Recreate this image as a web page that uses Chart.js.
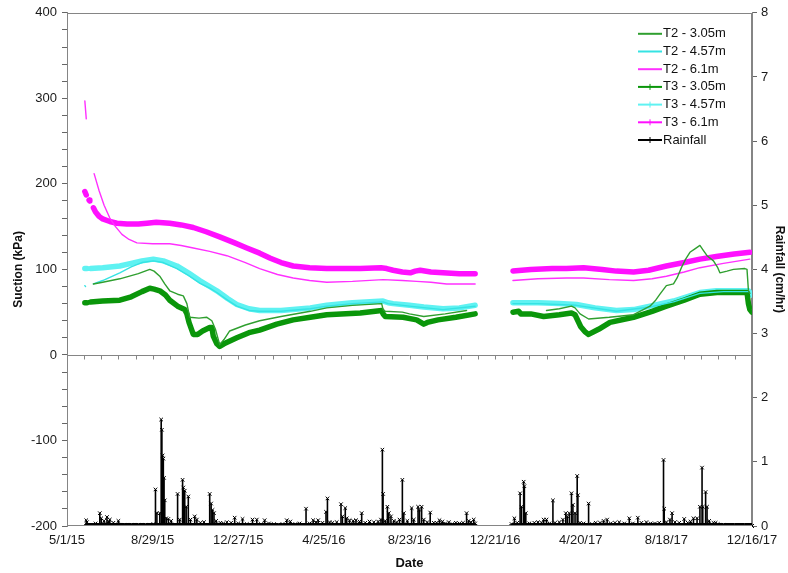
<!DOCTYPE html>
<html><head><meta charset="utf-8">
<script src="https://cdn.jsdelivr.net/npm/chart.js@4.4.1/dist/chart.umd.min.js"></script>
<style>html,body{margin:0;padding:0;background:#fff}#wrap{width:788px;height:573px}</style>
</head><body><div id="wrap"><canvas id="c" width="788" height="573"></canvas></div>
<script>
// ---- axis setup (days since 5/1/15) ----
const START = [2015, 4, 1];
const X_MIN = 0, X_MAX = 960, X_STEP = 120, X_MINOR = 24;
const SUCTION_MIN = -200, SUCTION_MAX = 400;
const RAIN_MIN = 0, RAIN_MAX = 8;

// ---- T2 - 3.05m (kPa) ----
const T2_305_DAY = [37,50,74,100,116,122,130,137,144,155,163,168,172,185,196,203,208,214,220,228,250,270,300,341,364,400,441,443,446,470,480,500,530,560,600,672,690,707,712,719,731,760,794,817,825,831,840,850,855,861,867,873,880,887,892,897,906,912,915,925,934,950,953,955,957];
const T2_305_KPA = [83,85,89,95,100,98,92,83,75,71,69,60,44,43,44,40,30,12,18,28,35,40,45,51,55,58,60,53,51,50,48,45,48,52,null,52,54,57,55,48,42,44,47,57,64,71,81,83,90,102,112,120,124,128,122,116,110,102,96,98,100,101,100,75,72];
// ---- T2 - 4.57m ----
const T2_457_DAY = [25,26,30,37,50,74,90,105,121,135,154,170,186,200,210,225,238,255,270,300,341,364,400,443,450,480,527,572,600,625,660,714,770,817,850,887,920,955];
const T2_457_KPA = [81,80,null,83,87,96,103,108,110,108,101,93,84,78,73,64,57,52,51,51,54,57,60,62,60,57,53,57,null,60,60,58,51,56,62,72,74,74];
// ---- T2 - 6.1m ----
const T2_61_DAY = [25,27,32,38,45,52,60,68,77,87,98,120,144,160,177,200,224,250,270,295,317,340,364,400,443,470,490,510,532,572,600,625,660,700,724,760,794,820,840,865,887,920,957];
const T2_61_KPA = [297,276,null,212,192,175,160,150,141,135,131,130,130,128,125,121,116,108,101,94,90,87,85,86,88,87,86,85,83,83,null,87,89,90,90,88,87,89,92,97,102,107,112];
// ---- T3 - 3.05m ----
const T3_305_DAY = [25,28,30,33,50,74,90,105,116,122,130,138,144,155,165,168,171,177,183,190,200,203,205,210,214,220,238,255,270,294,317,341,364,411,441,443,446,471,490,500,505,520,545,572,600,625,633,636,650,668,690,707,712,716,720,726,731,745,761,794,820,840,865,887,911,930,953,955,957,960];
const T3_305_KPA = [61,61,null,62,63,64,68,74,78,77,75,70,64,57,53,48,38,24,24,28,32,32,22,13,10,13,20,26,29,36,41,44,47,49,52,48,45,44,41,36,38,41,44,48,null,50,51,48,48,45,47,49,47,40,33,27,24,30,38,44,51,57,64,71,73,73,73,60,53,50];
// ---- T3 - 4.57m ----
const T3_457_DAY = [25,28,31,33,50,74,90,105,121,135,154,170,186,200,210,225,238,255,270,300,341,364,400,443,450,457,480,500,527,550,572,600,625,660,690,714,740,770,794,817,850,887,910,940,955,958,960];
const T3_457_KPA = [101,101,null,101,102,104,107,110,112,110,104,96,87,80,75,66,59,54,52,52,55,58,61,63,61,60,58,56,54,55,58,null,61,61,60,59,55,52,53,57,63,73,75,75,75,72,70];
// ---- T3 - 6.1m ----
const T3_61_DAY = [25,27,29,31,32,34,37,40,45,50,60,70,84,100,112,125,144,160,177,195,214,235,252,270,285,300,317,340,364,411,440,448,457,470,481,488,495,510,527,550,572,600,625,650,680,700,724,750,770,794,815,840,865,887,910,935,957];
const T3_61_KPA = [191,187,null,181,180,null,172,167,162,159,156,154,153,153,154,155,154,152,149,144,138,131,125,119,113,108,104,102,101,101,102,101,99,97,96,98,99,97,96,95,95,null,98,100,101,101,102,100,98,97,99,104,108,112,115,118,120];

// ---- Rainfall events (cm/hr); null = no record ----
const RAIN_DAY = [
 27,28,40,46,48,52,56,58,60,65,
 72,80,90,100,110,121,124,126,130,132,
 133,134,135,136,137,139,142,146,155,158,
 162,163,165,167,170,173,179,182,187,192,
 200,202,204,206,209,215,219,224,230,235,
 240,246,252,260,266,272,277,283,290,296,
 302,308,313,320,326,335,340,345,349,352,
 358,363,365,368,372,378,384,386,390,392,
 396,401,405,410,413,418,424,430,436,440,
 442,443,446,449,451,454,458,462,466,470,
 472,477,483,486,492,494,497,500,505,509,
 514,518,522,526,530,535,540,545,550,555,
 560,563,566,570,572,
 600,
 623,627,631,635,637,640,641,643,648,655,
 660,665,668,672,676,681,684,690,695,699,
 701,704,707,709,712,715,716,719,724,731,
 736,741,747,752,757,762,768,774,781,788,
 793,800,805,812,818,824,830,836,837,840,
 845,848,852,858,865,870,874,878,883,887,
 890,891,895,897,900,906,909,912,920,935,
 950,960];
const RAIN_CM = [
 0.09,0.06,0.04,0.2,0.12,0.08,0.14,0.07,0.1,0.05,
 0.08,0.02,0.02,0.02,0.02,0.03,0.57,0.2,0.2,1.66,
 1.5,1.1,1.05,0.75,0.4,0.12,0.11,0.08,0.5,0.1,
 0.72,0.6,0.55,0.3,0.46,0.1,0.15,0.1,0.05,0.06,
 0.5,0.35,0.25,0.2,0.08,0.05,0.04,0.06,0.05,0.13,
 0.04,0.11,0.03,0.1,0.1,0.03,0.09,0.04,0.03,0.02,
 0.03,0.09,0.07,0.03,0.04,0.27,0.04,0.09,0.06,0.09,
 0.05,0.22,0.43,0.06,0.05,0.06,0.34,0.15,0.28,0.12,
 0.09,0.08,0.09,0.07,0.2,0.05,0.07,0.06,0.07,0.1,
 1.19,0.5,0.08,0.3,0.2,0.15,0.08,0.06,0.1,0.72,
 0.2,0.08,0.28,0.1,0.3,0.25,0.3,0.1,0.06,0.21,
 0.05,0.05,0.09,0.07,0.04,0.06,0.03,0.05,0.04,0.05,
 0.2,0.08,0.06,0.1,0.04,
 null,
 0.03,0.12,0.05,0.51,0.3,0.69,0.62,0.2,0.04,0.05,
 0.06,0.05,0.1,0.1,0.04,0.4,0.05,0.06,0.1,0.2,
 0.15,0.2,0.51,0.33,0.2,0.78,0.48,0.05,0.04,0.35,
 0.03,0.05,0.05,0.08,0.1,0.04,0.05,0.06,0.04,0.12,
 0.04,0.13,0.05,0.06,0.04,0.04,0.05,1.03,0.27,0.06,
 0.1,0.2,0.06,0.05,0.11,0.05,0.07,0.12,0.12,0.3,
 0.91,0.3,0.53,0.3,0.08,0.05,0.05,0.03,0.02,0.01,
 0.01,0];

// ---- helpers ----
const pts = (days, vals) => days.map((d, i) => ({x: d, y: vals[i] == null ? null : vals[i]}));
function rainPoints() {
  const out = [];
  RAIN_DAY.forEach((d, i) => {
    const v = RAIN_CM[i];
    if (v == null) { out.push({x: d, y: null}); return; }
    out.push({x: d, y: 0}, {x: d, y: v}, {x: d, y: 0});
  });
  return out;
}
function dayLabel(v) {
  const dt = new Date(START[0], START[1], START[2] + v);
  return (dt.getMonth() + 1) + '/' + dt.getDate() + '/' + String(dt.getFullYear()).slice(2);
}

const FONT = '"Liberation Sans", Arial, sans-serif';
const GREEN_T2 = '#2f9f2f', GREEN_T3 = '#0a960a';
const CYAN_T2 = '#35e3e3', CYAN_T3 = '#5ff2f2';
const MAG_T2 = '#ff30ff', MAG_T3 = '#ff10ff';

function lineDs(label, data, color, width, mark) {
  return {label, data, borderColor: color, backgroundColor: color, borderWidth: width,
    pointRadius: 0, tension: 0, spanGaps: false, borderJoinStyle: 'round', borderCapStyle: 'round',
    yAxisID: 'y', legendMark: mark};
}

const datasets = [
  lineDs('T2 - 3.05m', pts(T2_305_DAY, T2_305_KPA), GREEN_T2, 1.4, false),
  lineDs('T2 - 4.57m', pts(T2_457_DAY, T2_457_KPA), CYAN_T2, 1.4, false),
  lineDs('T2 - 6.1m', pts(T2_61_DAY, T2_61_KPA), MAG_T2, 1.4, false),
  lineDs('T3 - 3.05m', pts(T3_305_DAY, T3_305_KPA), GREEN_T3, 5.5, true),
  lineDs('T3 - 4.57m', pts(T3_457_DAY, T3_457_KPA), CYAN_T3, 5.5, true),
  lineDs('T3 - 6.1m', pts(T3_61_DAY, T3_61_KPA), MAG_T3, 5.5, true),
  {label: 'Rainfall', data: rainPoints(), borderColor: '#000', backgroundColor: '#000', borderWidth: 1.6,
   pointStyle: 'crossRot', pointRadius: 2.5, pointBorderWidth: 1, pointBorderColor: '#000',
   tension: 0, spanGaps: false, yAxisID: 'y2', legendMark: true, clip: 4,
   segment: {borderWidth: c => (c.p0.parsed.y === 0 && c.p1.parsed.y === 0 ? 6 : 1.6)}}
];

const decor = {
  id: 'decor',
  beforeDatasetsDraw(chart) {
    const {ctx, chartArea: a, scales: {x, y}} = chart;
    ctx.save();
    ctx.strokeStyle = '#858585'; ctx.lineWidth = 1;
    ctx.strokeRect(Math.round(a.left) + 0.5, Math.round(a.top) + 0.5, Math.round(a.width) - 1, Math.round(a.height) - 1);
    const y0 = Math.round(y.getPixelForValue(0)) + 0.5;
    ctx.beginPath();
    ctx.moveTo(a.left, y0); ctx.lineTo(a.right, y0);
    for (let d = X_MIN; d <= X_MAX; d += X_MINOR) {
      const px = Math.round(x.getPixelForValue(d)) + 0.5;
      ctx.moveTo(px, y0); ctx.lineTo(px, y0 + 4);
    }
    ctx.stroke();
    ctx.restore();
  },
  afterDatasetsDraw(chart) {
    // keep the bottom frame line crisp over the rainfall baseline band
    const {ctx, chartArea: a} = chart;
    ctx.save();
    ctx.fillStyle = '#fff';
    ctx.fillRect(a.left + 1, Math.round(a.bottom), a.width - 1, 6);
    ctx.strokeStyle = '#858585'; ctx.lineWidth = 1;
    ctx.beginPath(); ctx.moveTo(a.left, Math.round(a.bottom) - 0.5); ctx.lineTo(a.right, Math.round(a.bottom) - 0.5); ctx.stroke();
    ctx.restore();
  },
  afterDraw(chart) {
    const {ctx, chartArea: a} = chart;
    ctx.save();
    ctx.font = '13px ' + FONT;
    ctx.textBaseline = 'middle';
    chart.data.datasets.forEach((ds, i) => {
      const yy = a.top + 21 + i * 17.7;
      const x1 = a.right - 114, x2 = a.right - 90;
      ctx.strokeStyle = ds.borderColor; ctx.lineWidth = 2;
      ctx.beginPath(); ctx.moveTo(x1, yy); ctx.lineTo(x2, yy); ctx.stroke();
      if (ds.legendMark) {
        ctx.lineWidth = 1;
        ctx.beginPath(); ctx.moveTo((x1 + x2) / 2, yy - 3); ctx.lineTo((x1 + x2) / 2, yy + 3); ctx.stroke();
      }
      ctx.fillStyle = '#111';
      ctx.fillText(ds.label, x2 + 1, yy);
    });
    ctx.restore();
  }
};

new Chart(document.getElementById('c'), {
  type: 'line',
  data: {datasets},
  plugins: [decor],
  options: {
    responsive: false, animation: false, devicePixelRatio: 1,
    layout: {padding: {top: 12, left: 0, right: 0, bottom: 0}},
    plugins: {legend: {display: false}, tooltip: {enabled: false}},
    scales: {
      x: {type: 'linear', min: X_MIN, max: X_MAX, position: 'bottom',
        afterFit: s => { s.height = 47; },
        ticks: {stepSize: X_STEP, autoSkip: false, maxRotation: 0, padding: 7, color: '#1a1a1a',
          font: {size: 13, family: FONT}, callback: v => dayLabel(v)},
        grid: {drawOnChartArea: false, drawTicks: false},
        border: {display: true, color: '#858585'},
        title: {display: true, text: 'Date', color: '#111', font: {size: 13, weight: 'bold', family: FONT}, padding: {top: 0, bottom: 2}}
      },
      y: {type: 'linear', position: 'left', min: SUCTION_MIN, max: SUCTION_MAX,
        afterFit: s => { s.width = 67; },
        ticks: {stepSize: 20, autoSkip: false, padding: 5, color: '#1a1a1a', font: {size: 13, family: FONT},
          callback: v => (v % 100 === 0 ? String(v) : '')},
        grid: {drawOnChartArea: false, tickLength: 5, tickColor: '#666'},
        border: {display: true, color: '#858585'},
        title: {display: true, text: 'Suction (kPa)', color: '#111', font: {size: 12, weight: 'bold', family: FONT}, padding: {top: 11, bottom: 0}}
      },
      y2: {type: 'linear', position: 'right', min: RAIN_MIN, max: RAIN_MAX,
        afterFit: s => { s.width = 36; },
        ticks: {stepSize: 1, autoSkip: false, padding: 4, color: '#1a1a1a', font: {size: 13, family: FONT}},
        grid: {drawOnChartArea: false, tickLength: 5, tickColor: '#666'},
        border: {display: true, color: '#858585'},
        title: {display: true, text: 'Rainfall (cm/hr)', color: '#111', font: {size: 12, weight: 'bold', family: FONT}, padding: {top: 1, bottom: 0}}
      }
    }
  }
});
</script></body></html>
